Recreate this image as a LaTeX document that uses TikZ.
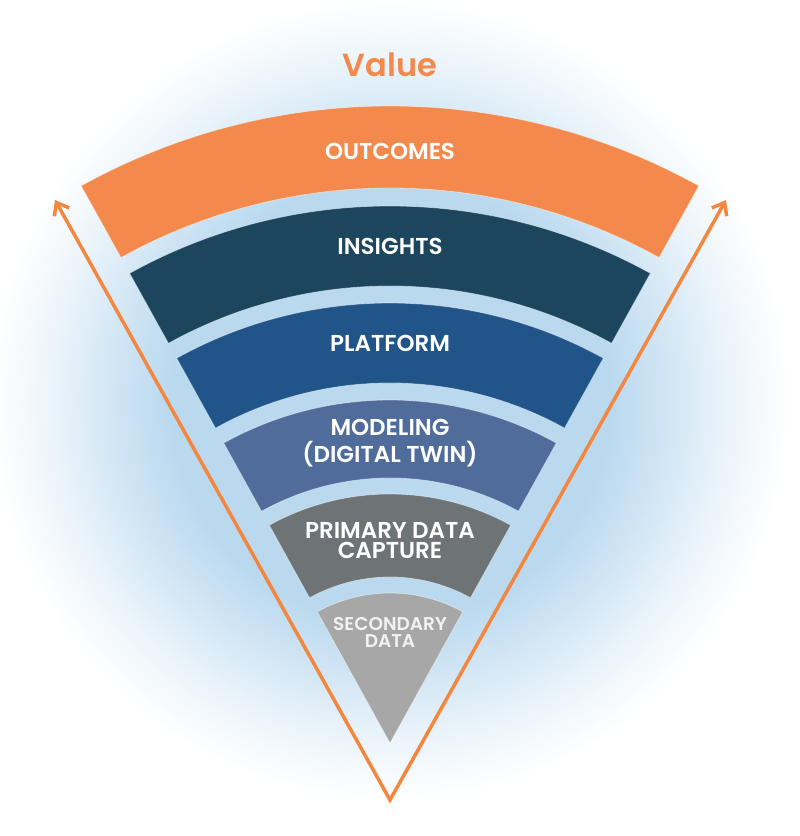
\documentclass[tikz,border=0pt]{standalone}
\usepackage{fontspec}
\setmainfont{Poppins}
\IfFontExistsTF{Poppins SemiBold}{\newfontfamily\lblfont{Poppins SemiBold}}{\newcommand\lblfont{\bfseries}}
\usetikzlibrary{arrows.meta}
\definecolor{lb}{HTML}{BAD9EF}
\definecolor{outc}{HTML}{F3894C}
\definecolor{insc}{HTML}{1B465D}
\definecolor{platc}{HTML}{21558A}
\definecolor{modc}{HTML}{4F6C9B}
\definecolor{primc}{HTML}{6E7476}
\definecolor{secc}{HTML}{A7A7A7}
\definecolor{arrowc}{HTML}{F3873F}
\pgfdeclareradialshading{glowshade}{\pgfpoint{0bp}{0bp}}{color(0bp)=(lb); color(13.75bp)=(lb); color(17.5bp)=(lb!65!white); color(21.25bp)=(lb!28!white); color(25bp)=(white); color(50bp)=(white)}
\begin{document}
\begin{tikzpicture}[x=1pt,y=1pt,
  band/.style={draw=white, draw opacity=0.45, line width=0.8pt},
  lbl/.style={text=white, font=\lblfont\fontsize{23}{23}\selectfont, anchor=base, inner sep=0pt},
  lbltwo/.style={text=white, align=center, anchor=north, inner sep=0pt},
  vallbl/.style={text=outc, font=\lblfont\fontsize{32}{32}\selectfont, anchor=base, inner sep=0pt},
  valarrow/.style={draw=arrowc, line width=3.5pt, line join=miter,
    {Straight Barb[length=11pt,width=17pt]}-{Straight Barb[length=11pt,width=17pt]}}]
\useasboundingbox (0,0) rectangle (800,836);
\fill[white] (0,0) rectangle (800,836);
\shade[shading=glowshade] (390,436) ellipse[x radius=400, y radius=400];
\begin{scope}[shift={(390,93)}]
  \path[band, fill=outc] (61:637) arc[start angle=61,end angle=119,radius=637] -- (119:555) arc[start angle=119,end angle=61,radius=555] -- cycle;
  \path[band, fill=insc] (61:537) arc[start angle=61,end angle=119,radius=537] -- (119:457) arc[start angle=119,end angle=61,radius=457] -- cycle;
  \path[band, fill=platc] (61:440) arc[start angle=61,end angle=119,radius=440] -- (119:360) arc[start angle=119,end angle=61,radius=360] -- cycle;
  \path[band, fill=modc] (61:343) arc[start angle=61,end angle=119,radius=343] -- (119:265) arc[start angle=119,end angle=61,radius=265] -- cycle;
  \path[band, fill=primc] (61:249) arc[start angle=61,end angle=119,radius=249] -- (119:166) arc[start angle=119,end angle=61,radius=166] -- cycle;
  \path[band, fill=secc] (0,0) -- (61:150) arc[start angle=61,end angle=119,radius=150] -- cycle;
\end{scope}
\coordinate (vapex) at (390,36);
\coordinate (ltip) at (55,636);
\coordinate (rtip) at (726,636);
\draw[valarrow] (ltip) -- (vapex) -- (rtip);
\node[vallbl] (value) at (390,759) {Value};
\node[lbl] (outcomes) at (390,676) {OUTCOMES};
\node[lbl] (insights) at (390,581) {INSIGHTS};
\node[lbl] (platform) at (390,484) {PLATFORM};
\node[lbltwo, font=\lblfont\fontsize{23}{27}\selectfont] (modeling) at (390,417) {MODELING\\(DIGITAL TWIN)};
\node[lbltwo, font=\lblfont\fontsize{23}{20}\selectfont] (primary) at (390,314) {PRIMARY DATA\\CAPTURE};
\node[lbltwo, text=white!95!black, font=\lblfont\fontsize{18.5}{17}\selectfont] (secondary) at (390,219) {SECONDARY\\DATA};
\end{tikzpicture}
\end{document}
